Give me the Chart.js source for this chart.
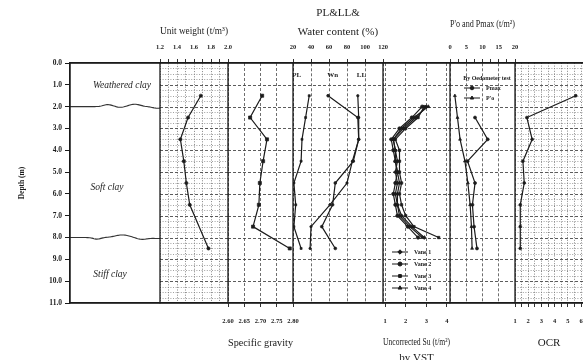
<!DOCTYPE html>
<html lang="en">
<head>
<meta charset="utf-8">
<title>Soil profile</title>
<script src="https://cdn.jsdelivr.net/npm/chart.js@4/dist/chart.umd.min.js"></script>
<style>
  html, body { margin: 0; padding: 0; background: #ffffff; overflow: hidden; }
  canvas { display: block; }
</style>
</head>
<body>
<canvas id="profile" width="583" height="360"></canvas>
<script>
// ---- soil layers (depth in m) ----
const DEPTH_TICKS = [0, 1, 2, 3, 4, 5, 6, 7, 8, 9, 10, 11];
const LAYER_NAMES = ['Weathered clay', 'Soft clay', 'Stiff clay'];
const LAYER_BOUNDARIES = [2.0, 8.0];
const LAYER_LABEL_DEPTHS = [1.05, 5.7, 9.7];

// ---- laboratory tests on samples ----
const SAMPLE_DEPTHS = [1.5, 2.5, 3.5, 4.5, 5.5, 6.5, 7.5, 8.5];
const UNIT_WEIGHT_DEPTHS = [1.5, 2.5, 3.5, 4.5, 5.5, 6.5, 8.5];
const UNIT_WEIGHT = [1.68, 1.53, 1.44, 1.48, 1.51, 1.55, 1.77];
const SPECIFIC_GRAVITY = [2.705, 2.668, 2.72, 2.708, 2.698, 2.695, 2.677, 2.79];
const PLASTIC_LIMIT = [38, 34, 30, 29, 21, 23, 21, 29];
const WATER_CONTENT = [59, 92, 93, 87, 67, 64, 52, 67];
const LIQUID_LIMIT = [92, 93, 93, 86, 80, 61, 40, 39];
const WC_TAGS = ['PL', 'Wn', 'LL'];

// ---- field vane shear tests ----
const VANE_DEPTHS = [2.0, 2.5, 3.0, 3.5, 4.0, 4.5, 5.0, 5.5, 6.0, 6.5, 7.0, 7.5, 8.0];
const VANE_1 = [3.0, 2.5, 1.9, 1.4, 1.5, 1.6, 1.5, 1.6, 1.5, 1.6, 1.8, 2.3, 2.9];
const VANE_2 = [2.8, 2.3, 1.7, 1.3, 1.4, 1.5, 1.6, 1.5, 1.4, 1.5, 1.6, 2.1, 2.6];
const VANE_3 = [2.9, 2.6, 2.0, 1.5, 1.7, 1.7, 1.7, 1.8, 1.7, 1.8, 2.0, 2.4, 3.6];
const VANE_4 = [3.1, 2.4, 1.8, 1.4, 1.5, 1.5, 1.6, 1.7, 1.6, 1.6, 1.7, 2.2, 2.8];
const VANE_NAMES = ['Vane 1', 'Vane 2', 'Vane 3', 'Vane 4'];

// ---- oedometer results ----
const OVERBURDEN = [1.5, 2.3, 3.1, 4.6, 5.5, 6.2, 6.6, 6.8];
const PMAX_DEPTHS = [2.5, 3.5, 4.5, 5.5, 6.5, 7.5, 8.5];
const PMAX = [7.7, 11.6, 5.4, 7.7, 6.9, 7.4, 8.3];
const OCR = [5.6, 1.9, 2.3, 1.6, 1.7, 1.4, 1.4, 1.4];
const OED_HEADER = 'By Oedometer test';
const OED_NAMES = ['Pmax', "P'o"];

// ---- axis ticks ----
const UW_TICKS = [1.2, 1.3, 1.4, 1.5, 1.6, 1.7, 1.8, 1.9, 2.0];
const UW_LABELS = [1.2, 1.4, 1.6, 1.8, 2.0];
const SG_TICKS = [2.60, 2.65, 2.70, 2.75, 2.80];
const WC_TICKS = [20, 40, 60, 80, 100, 120];
const SU_TICKS = [1, 2, 3, 4];
const P_TICKS = [0, 2.5, 5, 7.5, 10, 12.5, 15, 17.5, 20];
const P_LABELS = [0, 5, 10, 15, 20];
const OCR_TICKS = [1, 1.5, 2, 2.5, 3, 3.5, 4, 4.5, 5, 5.5, 6];
const OCR_LABELS = [1, 2, 3, 4, 5, 6];

// ---- look ----
const SERIF = "'Liberation Serif', 'DejaVu Serif', serif";
const INK = '#1b1b1b';
const GRID = '#4a4a4a';
const TOP_H = 63, BOTTOM_H = 57, LEFT_W = 70;
const TICK_FONT = { family: SERIF, size: 6.5, weight: 'bold' };
const TITLE_FONT = { family: SERIF, size: 11 };

const near = (list, v) => list.some(l => Math.abs(l - v) < 1e-9);

// panels sit edge to edge, so tick labels must not push the plot area inwards
function noSidePadding(s) {
  s.paddingLeft = 0; s.paddingRight = 0; s.paddingTop = 0; s.paddingBottom = 0;
}

function panelAxis(o) {
  return {
    type: 'linear', position: o.pos, stack: 'panels', stackWeight: o.width, weight: o.weight,
    min: o.min, max: o.max,
    afterBuildTicks: s => { s.ticks = o.ticks.map(v => ({ value: v })); },
    ticks: {
      autoSkip: false, maxRotation: 0, font: TICK_FONT, color: INK,
      padding: o.pos === 'top' ? 8 : 10,
      callback: v => near(o.labels, v) ? v.toFixed(o.dp) : ''
    },
    grid: {
      color: o.gridColor || GRID, lineWidth: 0.8,
      tickLength: 4, tickColor: INK, tickWidth: 0.9
    },
    border: { display: true, color: INK, width: 1.3, dash: o.dash },
    title: o.title,
    afterFit: s => { s.height = o.pos === 'top' ? TOP_H : BOTTOM_H; noSidePadding(s); }
  };
}

function blankAxis(pos, width, weight) {
  return {
    type: 'linear', position: pos, stack: 'panels', stackWeight: width, weight: weight,
    min: 0, max: 1,
    ticks: { display: false },
    grid: { display: false },
    border: { display: true, color: INK, width: 1.3 },
    afterFit: s => { s.height = pos === 'top' ? TOP_H : BOTTOM_H; noSidePadding(s); }
  };
}

const pairs = (depths, values) => depths.map((d, i) => ({ x: values[i], y: d }));
function trace(label, axis, depths, values, pointStyle, radius) {
  return {
    label, xAxisID: axis, yAxisID: 'y', data: pairs(depths, values),
    showLine: true, tension: 0, borderColor: INK, backgroundColor: INK, borderWidth: 1.2,
    pointStyle, pointRadius: radius, pointBackgroundColor: INK, pointBorderColor: INK,
    pointBorderWidth: 0.7
  };
}

const datasets = [
  trace('Unit weight', 'uw', UNIT_WEIGHT_DEPTHS, UNIT_WEIGHT, 'circle', 1.6),
  trace('Specific gravity', 'sg', SAMPLE_DEPTHS, SPECIFIC_GRAVITY, 'rect', 2.2),
  trace(WC_TAGS[0], 'wc', SAMPLE_DEPTHS, PLASTIC_LIMIT, 'rect', 1.4),
  trace(WC_TAGS[1], 'wc', SAMPLE_DEPTHS, WATER_CONTENT, 'circle', 1.4),
  trace(WC_TAGS[2], 'wc', SAMPLE_DEPTHS, LIQUID_LIMIT, 'circle', 1.2),
  trace(VANE_NAMES[0], 'su', VANE_DEPTHS, VANE_1, 'rectRot', 1.9),
  trace(VANE_NAMES[1], 'su', VANE_DEPTHS, VANE_2, 'circle', 1.7),
  trace(VANE_NAMES[2], 'su', VANE_DEPTHS, VANE_3, 'rect', 1.7),
  trace(VANE_NAMES[3], 'su', VANE_DEPTHS, VANE_4, 'triangle', 1.9),
  trace(OED_NAMES[0], 'p', PMAX_DEPTHS, PMAX, 'circle', 1.5),
  trace(OED_NAMES[1], 'p', SAMPLE_DEPTHS, OVERBURDEN, 'triangle', 1.7),
  trace('OCR', 'ocr', SAMPLE_DEPTHS, OCR, 'circle', 1.4)
];

const TOP_IDS = ['soilT', 'uw', 'sgT', 'wc', 'suT', 'p', 'ocrT'];
const BOTTOM_IDS = ['soilB', 'uwB', 'sg', 'wcB', 'su', 'pB', 'ocr'];
const FINE_PANELS = ['uw', 'ocrT'];

const scales = {
  y: {
    type: 'linear', position: 'left', reverse: true, min: 0, max: 11,
    afterBuildTicks: s => { s.ticks = DEPTH_TICKS.map(v => ({ value: v })); },
    ticks: { font: { family: SERIF, size: 7.5, weight: 'bold' }, color: INK, padding: 3,
             callback: v => v.toFixed(1) },
    grid: { drawOnChartArea: false, tickLength: 5, tickColor: INK, tickWidth: 1 },
    border: { display: true, color: INK, width: 1.3 },
    title: { display: true, text: 'Depth (m)', color: INK,
             font: { family: SERIF, size: 7.5, weight: 'bold' }, padding: { top: 18, bottom: 0 } },
    afterFit: s => { s.width = LEFT_W; noSidePadding(s); }
  },
  soilT: blankAxis('top', 90, 1),
  uw: panelAxis({ pos: 'top', width: 68, weight: 2, min: 1.2, max: 2.0, ticks: UW_TICKS, labels: UW_LABELS, dp: 1,
    dash: [1, 1.6], gridColor: '#666',
    title: { display: true, text: 'Unit weight (t/m³)', color: INK, font: TITLE_FONT, padding: { top: 25, bottom: 0 } } }),
  sgT: blankAxis('top', 65, 3),
  wc: panelAxis({ pos: 'top', width: 90, weight: 4, min: 20, max: 120, ticks: WC_TICKS, labels: WC_TICKS, dp: 0,
    dash: [3, 2],
    title: { display: true, text: ['PL&LL&', 'Water content (%)'], color: INK,
             font: { family: SERIF, size: 11, lineHeight: 1.7 }, padding: { top: 4, bottom: 0 } } }),
  suT: blankAxis('top', 67, 5),
  p: panelAxis({ pos: 'top', width: 65, weight: 6, min: 0, max: 20, ticks: P_TICKS, labels: P_LABELS, dp: 0,
    dash: [3, 2], gridColor: c => (c.tick && near(P_LABELS, c.tick.value)) ? GRID : 'rgba(0,0,0,0)',
    title: { display: true, text: "P'o and Pmax (t/m²)", color: INK, font: TITLE_FONT, padding: { top: 18, bottom: 0 } } }),
  ocrT: blankAxis('top', 68, 7),

  soilB: blankAxis('bottom', 90, 1),
  uwB: blankAxis('bottom', 68, 2),
  sg: panelAxis({ pos: 'bottom', width: 65, weight: 3, min: 2.60, max: 2.80, ticks: SG_TICKS, labels: SG_TICKS, dp: 2,
    dash: [3, 2],
    title: { display: true, text: 'Specific gravity', color: INK, font: TITLE_FONT, padding: { top: 0, bottom: 10 } } }),
  wcB: blankAxis('bottom', 90, 4),
  su: panelAxis({ pos: 'bottom', width: 67, weight: 5, min: 0.9, max: 4.15, ticks: SU_TICKS, labels: SU_TICKS, dp: 0,
    dash: [3, 2],
    title: { display: true, text: ['Uncorrected Su (t/m²)', 'by VST'], color: INK,
             font: { family: SERIF, size: 11, lineHeight: 1.45 }, padding: { top: 0, bottom: -6 } } }),
  pB: blankAxis('bottom', 65, 6),
  ocr: panelAxis({ pos: 'bottom', width: 68, weight: 7, min: 1, max: 6.15, ticks: OCR_TICKS, labels: OCR_LABELS, dp: 0,
    dash: [1, 1.6], gridColor: '#666',
    title: { display: true, text: 'OCR', color: INK, font: TITLE_FONT, padding: { top: 0, bottom: 10 } } })
};

function seg(ctx, x1, y1, x2, y2) {
  ctx.beginPath(); ctx.moveTo(x1, y1); ctx.lineTo(x2, y2); ctx.stroke();
}

function marker(ctx, style, r, x, y) {
  ctx.fillStyle = INK; ctx.strokeStyle = INK; ctx.setLineDash([]);
  if (Chart.helpers && Chart.helpers.drawPoint) {
    Chart.helpers.drawPoint(ctx, { pointStyle: style, radius: r, rotation: 0, borderWidth: 0.7 }, x, y);
  } else {
    ctx.beginPath(); ctx.arc(x, y, r, 0, Math.PI * 2); ctx.fill();
  }
}

function legendRow(ctx, ds, x, y, text) {
  ctx.save();
  ctx.strokeStyle = INK; ctx.lineWidth = 1; ctx.setLineDash([]);
  seg(ctx, x, y, x + 16, y);
  marker(ctx, ds.pointStyle, ds.pointRadius + 0.3, x + 8, y);
  ctx.fillStyle = INK;
  ctx.font = "bold 6px " + SERIF;
  ctx.textAlign = 'left'; ctx.textBaseline = 'middle';
  ctx.fillText(text, x + 22, y);
  ctx.restore();
}

const bump = (t, c, w) => Math.exp(-((t - c) * (t - c)) / (2 * w * w));
const BOUNDARY_WAVES = [
  t => -2.0 * bump(t, 0.42, 0.05) + 0.8 * bump(t, 0.56, 0.04) - 2.4 * bump(t, 0.72, 0.06) + 1.6 * bump(t, 0.97, 0.05),
  t => 1.6 * bump(t, 0.30, 0.04) - 2.6 * bump(t, 0.58, 0.08) + 1.8 * bump(t, 0.80, 0.06) + 1.0 * bump(t, 1.0, 0.08)
];
const LAYER_LABEL_SHIFT = [7, -8, -5];
const WC_TAG_VALUES = [24, 64, 96];

const profilePanels = {
  id: 'profilePanels',
  beforeDatasetsDraw(chart) {
    const { ctx, chartArea: a, scales: s } = chart;
    const y = s.y;
    ctx.save();
    ctx.beginPath(); ctx.rect(a.left, a.top, a.width, a.height); ctx.clip();

    // horizontal depth grid inside each test panel
    TOP_IDS.slice(1).forEach(id => {
      const sc = s[id];
      const fine = FINE_PANELS.includes(id);
      for (let q = 1; q < 44; q++) {
        const d = q * 0.25;
        const major = q % 4 === 0;
        if (!major && !fine) continue;
        const py = Math.round(y.getPixelForValue(d)) + 0.5;
        ctx.setLineDash(major ? [3, 2] : [1, 1.6]);
        ctx.strokeStyle = major ? GRID : '#777';
        ctx.lineWidth = major ? 0.9 : 0.7;
        seg(ctx, sc.left, py, sc.right, py);
      }
    });

    // layer boundaries and names in the soil column
    const soil = s.soilT;
    ctx.setLineDash([]);
    ctx.strokeStyle = '#333';
    ctx.lineWidth = 1.1;
    LAYER_BOUNDARIES.forEach((b, k) => {
      const y0 = y.getPixelForValue(b);
      ctx.beginPath();
      for (let px = soil.left; px <= soil.right; px += 1) {
        const t = (px - soil.left) / (soil.right - soil.left);
        const py = y0 + BOUNDARY_WAVES[k](t);
        if (px === soil.left) ctx.moveTo(px, py); else ctx.lineTo(px, py);
      }
      ctx.stroke();
    });
    ctx.fillStyle = '#222';
    ctx.font = "italic 9.5px " + SERIF;
    ctx.textAlign = 'center'; ctx.textBaseline = 'middle';
    const mid = (soil.left + soil.right) / 2;
    LAYER_NAMES.forEach((name, i) => {
      ctx.fillText(name, mid + LAYER_LABEL_SHIFT[i], y.getPixelForValue(LAYER_LABEL_DEPTHS[i]));
    });

    // series tags in the water content panel
    ctx.font = "bold 7px " + SERIF;
    WC_TAGS.forEach((tag, i) => {
      ctx.fillText(tag, s.wc.getPixelForValue(WC_TAG_VALUES[i]), y.getPixelForValue(0.55));
    });
    ctx.restore();
  },
  afterDatasetsDraw(chart) {
    const { ctx, chartArea: a, scales: s } = chart;
    ctx.save();
    ctx.setLineDash([]);
    ctx.strokeStyle = INK;
    ctx.lineWidth = 1.3;
    seg(ctx, a.left, a.top, a.right, a.top);
    seg(ctx, a.left, a.bottom, a.right, a.bottom);
    TOP_IDS.forEach(id => seg(ctx, s[id].left, a.top, s[id].left, a.bottom));

    // vane test legend, lower part of the Su panel
    const vanes = chart.data.datasets.filter(d => d.xAxisID === 'su');
    vanes.forEach((ds, i) => legendRow(ctx, ds, s.su.left + 9, a.bottom - 51 + i * 12, VANE_NAMES[i]));

    // oedometer legend, upper part of the P panel
    ctx.fillStyle = INK;
    ctx.font = "bold 6px " + SERIF;
    ctx.textAlign = 'center'; ctx.textBaseline = 'middle';
    ctx.fillText(OED_HEADER, s.p.left + 37, a.top + 15);
    const oed = chart.data.datasets.filter(d => d.xAxisID === 'p');
    oed.forEach((ds, i) => legendRow(ctx, ds, s.p.left + 14, a.top + 25 + i * 10, OED_NAMES[i]));
    ctx.restore();
  }
};

const chart = new Chart(document.getElementById('profile'), {
  type: 'scatter',
  data: { datasets },
  options: {
    responsive: false, maintainAspectRatio: false, devicePixelRatio: 1,
    animation: false, events: [],
    layout: { padding: 0, autoPadding: false },
    plugins: { legend: { display: false }, tooltip: { enabled: false } },
    scales
  },
  plugins: [profilePanels]
});

// keep the panels of each axis row in left-to-right order
function orderRow(ids) {
  const first = chart.scales[ids[0]], last = chart.scales[ids[ids.length - 1]];
  if (first.left > last.left) {
    ids.forEach(id => { chart.options.scales[id].weight = -chart.options.scales[id].weight; });
    return true;
  }
  return false;
}
const flippedTop = orderRow(TOP_IDS);
const flippedBottom = orderRow(BOTTOM_IDS);
if (flippedTop || flippedBottom) chart.update();
</script>
</body>
</html>
